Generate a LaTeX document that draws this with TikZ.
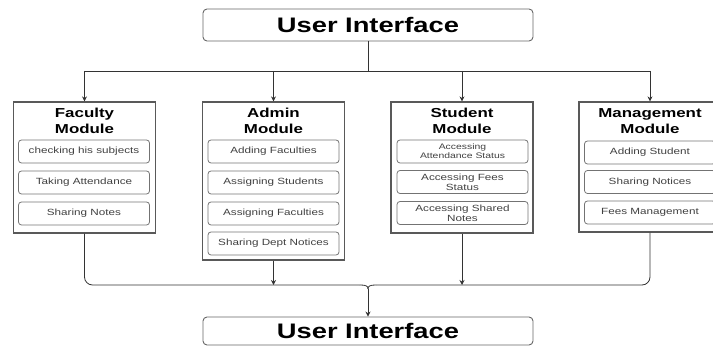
\documentclass[tikz,border=0pt]{standalone}
\usepackage{fontspec}
\setmainfont{Liberation Sans}[FakeStretch=1.3]
\usetikzlibrary{arrows.meta}
\begin{document}
\begin{tikzpicture}[x=1pt,y=-1pt,
  conn/.style={draw=black!80,line width=0.8pt},
  arr/.style={conn,-{Stealth[length=5pt,width=5pt]}},
  uibox/.style={draw=black!60,line width=0.9pt,rounded corners=4pt,minimum width=330pt,inner sep=0pt,font=\fontsize{21}{24}\selectfont\bfseries},
  modbox/.style={draw=black!65,line width=1.2pt,minimum width=142pt,inner sep=0pt},
  modtitle/.style={align=center,font=\fontsize{13}{16}\selectfont\bfseries,inner sep=0pt},
  itembox/.style={draw=black!55,line width=0.8pt,rounded corners=3pt,minimum width=131pt,minimum height=23pt,inner sep=0pt,align=center,text=black!75,font=\fontsize{9}{10}\selectfont},
  smallitem/.style={itembox,font=\fontsize{8}{9}\selectfont}
]
\useasboundingbox (0,0) rectangle (713,347);

% user interface boxes
\node[uibox,minimum height=32pt] (ui1) at (368,25) {User Interface};
\node[uibox,minimum height=28pt] (ui2) at (368,331) {User Interface};

% module boxes
\node[modbox,minimum height=131pt] (fac) at (84.5,167.5) {};
\node[modbox,minimum height=158pt] (adm) at (273.5,181) {};
\node[modbox,minimum height=131pt] (stu) at (462,167.5) {};
\node[modbox,minimum height=130pt] (mgt) at (650,167) {};

% titles
\node[modtitle] (facT) at (84.5,121) {Faculty\\Module};
\node[modtitle] (admT) at (273.5,121) {Admin\\Module};
\node[modtitle] (stuT) at (462,121) {Student\\Module};
\node[modtitle] (mgtT) at (650,121) {Management\\Module};

% faculty items
\node[itembox] (f1) at (84,151.5) {checking his subjects};
\node[itembox] (f2) at (84,182.5) {Taking Attendance};
\node[itembox] (f3) at (84,213.5) {Sharing Notes};

% admin items
\node[itembox] (a1) at (273.5,151.5) {Adding Faculties};
\node[itembox] (a2) at (273.5,182.5) {Assigning Students};
\node[itembox] (a3) at (273.5,213.5) {Assigning Faculties};
\node[itembox] (a4) at (273.5,243.5) {Sharing Dept Notices};

% student items
\node[smallitem] (s1) at (462.5,151.5) {Accessing\\Attendance Status};
\node[itembox] (s2) at (462.5,182) {Accessing Fees\\Status};
\node[itembox] (s3) at (462.5,213) {Accessing Shared\\Notes};

% management items
\node[itembox] (m1) at (650,152.5) {Adding Student};
\node[itembox] (m2) at (650,182) {Sharing Notices};
\node[itembox] (m3) at (650,212.5) {Fees Management};

% top connectors
\coordinate (topbus) at (368,71);
\coordinate (tl) at (84.5,71);
\coordinate (tr) at (650,71);
\coordinate (ta) at (273.5,71);
\coordinate (ts) at (462,71);
\draw[conn] (ui1.south) -- (topbus);
\draw[conn] (tl) -- (tr);
\draw[arr] (tl) -- (fac.north);
\draw[arr] (ta) -- (adm.north);
\draw[arr] (ts) -- (stu.north);
\draw[arr] (tr) -- (mgt.north);

% bottom connectors
\coordinate (bl) at (360,285);
\coordinate (br) at (376,285);
\coordinate (bm) at (368,289);
\coordinate (ba) at (273.5,285);
\coordinate (bs) at (462,285);
\draw[conn,rounded corners=8pt] (fac.south) |- (bl);
\draw[conn,rounded corners=8pt] (mgt.south) |- (br);
\draw[conn] (bl) .. controls (366,285) and (368,286) .. (bm);
\draw[conn] (br) .. controls (370,285) and (368,286) .. (bm);
\draw[arr] (adm.south) -- (ba);
\draw[arr] (stu.south) -- (bs);
\draw[arr] (bm) -- (ui2.north);
\end{tikzpicture}
\end{document}
